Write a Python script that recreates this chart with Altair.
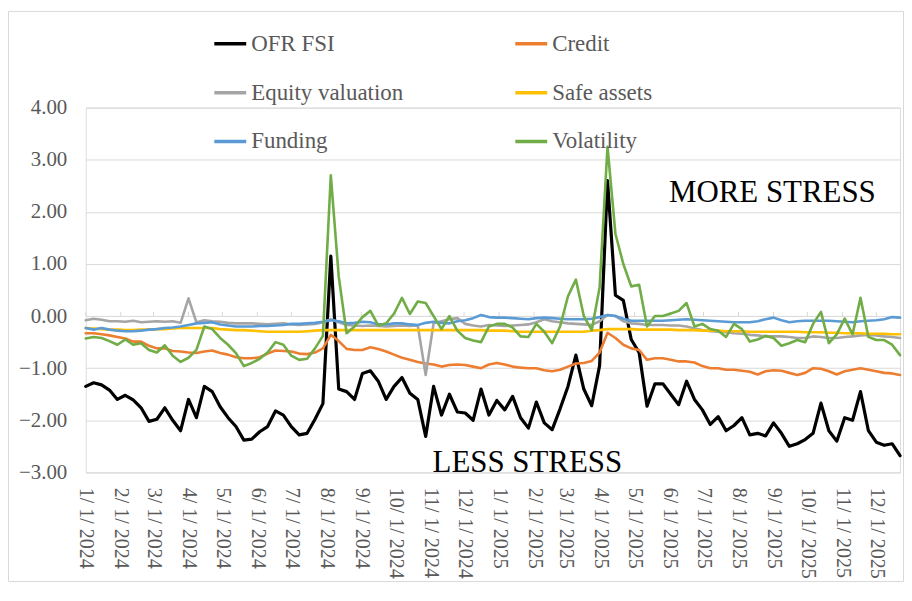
import altair as alt
import pandas as pd

# Weekly observation dates (Mondays) 1/1/2024 .. 12/22/2025
dates = [d.strftime("%Y-%m-%d") for d in pd.date_range("2024-01-01", periods=104, freq="7D")]

ofr_fsi = [
    -1.35, -1.28, -1.32, -1.42, -1.60, -1.52, -1.61, -1.76, -2.02, -1.98,
    -1.76, -2.00, -2.20, -1.60, -1.95, -1.35, -1.45, -1.74, -1.95, -2.12,
    -2.38, -2.36, -2.22, -2.12, -1.82, -1.90, -2.12, -2.28, -2.25, -1.98,
    -1.68, 1.15, -1.40, -1.45, -1.60, -1.10, -1.05, -1.25, -1.60, -1.35,
    -1.18, -1.48, -1.60, -2.31, -1.35, -1.90, -1.50, -1.84, -1.86, -2.00,
    -1.40, -1.90, -1.62, -1.80, -1.54, -1.95, -2.15, -1.65, -2.05, -2.18,
    -1.78, -1.35, -0.75, -1.40, -1.72, -0.95, 2.60, 0.40, 0.30, -0.45,
    -0.70, -1.73, -1.30, -1.30, -1.50, -1.70, -1.25, -1.60, -1.80, -2.08,
    -1.93, -2.20, -2.10, -1.95, -2.28, -2.25, -2.30, -2.05, -2.25, -2.50,
    -2.45, -2.37, -2.25, -1.67, -2.20, -2.40, -1.95, -2.00, -1.45, -2.20,
    -2.42, -2.48, -2.45, -2.68,
]
credit = [
    -0.33, -0.33, -0.35, -0.37, -0.40, -0.43, -0.49, -0.49, -0.57, -0.62,
    -0.62, -0.67, -0.68, -0.70, -0.71, -0.68, -0.66, -0.71, -0.74, -0.79,
    -0.81, -0.81, -0.79, -0.72, -0.66, -0.67, -0.68, -0.72, -0.73, -0.70,
    -0.62, -0.36, -0.48, -0.63, -0.65, -0.65, -0.60, -0.63, -0.68, -0.74,
    -0.80, -0.84, -0.88, -0.91, -0.93, -0.97, -0.94, -0.93, -0.94, -0.97,
    -1.00, -0.93, -0.90, -0.93, -0.97, -0.99, -1.00, -1.00, -1.04, -1.06,
    -1.03, -0.97, -0.91, -0.90, -0.86, -0.70, -0.32, -0.42, -0.55, -0.62,
    -0.65, -0.84, -0.81, -0.81, -0.84, -0.87, -0.87, -0.89, -0.96, -1.00,
    -1.00, -1.03, -1.03, -1.05, -1.07, -1.12, -1.06, -1.04, -1.05, -1.09,
    -1.13, -1.09, -1.00, -1.01, -1.06, -1.12, -1.06, -1.03, -1.00, -1.03,
    -1.06, -1.09, -1.10, -1.13,
]
equity_valuation = [
    -0.08, -0.05, -0.07, -0.10, -0.10, -0.11, -0.09, -0.12, -0.11, -0.10,
    -0.11, -0.10, -0.13, 0.34, -0.12, -0.08, -0.10, -0.11, -0.13, -0.14,
    -0.14, -0.14, -0.15, -0.16, -0.15, -0.14, -0.16, -0.17, -0.16, -0.15,
    -0.12, -0.06, -0.12, -0.17, -0.18, -0.19, -0.18, -0.19, -0.20, -0.19,
    -0.18, -0.19, -0.18, -1.13, -0.14, -0.10, -0.06, -0.04, -0.15, -0.18,
    -0.20, -0.17, -0.18, -0.19, -0.18, -0.17, -0.16, -0.12, -0.06, -0.10,
    -0.12, -0.14, -0.15, -0.16, -0.17, -0.10, 0.02, 0.00, -0.10, -0.14,
    -0.15, -0.17, -0.17, -0.17, -0.18, -0.18, -0.20, -0.24, -0.27, -0.29,
    -0.30, -0.31, -0.33, -0.34, -0.36, -0.37, -0.39, -0.39, -0.39, -0.40,
    -0.42, -0.42, -0.39, -0.40, -0.42, -0.42, -0.40, -0.39, -0.37, -0.36,
    -0.37, -0.39, -0.40, -0.42,
]
safe_assets = [
    -0.23, -0.24, -0.25, -0.26, -0.26, -0.27, -0.27, -0.26, -0.26, -0.25,
    -0.25, -0.24, -0.23, -0.23, -0.23, -0.23, -0.23, -0.25, -0.26, -0.27,
    -0.27, -0.28, -0.29, -0.30, -0.30, -0.30, -0.30, -0.30, -0.29, -0.28,
    -0.27, -0.27, -0.27, -0.27, -0.27, -0.27, -0.27, -0.27, -0.27, -0.27,
    -0.27, -0.27, -0.27, -0.27, -0.27, -0.27, -0.27, -0.27, -0.27, -0.27,
    -0.27, -0.28, -0.28, -0.28, -0.29, -0.30, -0.30, -0.30, -0.30, -0.30,
    -0.30, -0.30, -0.30, -0.30, -0.28, -0.27, -0.25, -0.25, -0.25, -0.25,
    -0.26, -0.26, -0.26, -0.26, -0.26, -0.27, -0.27, -0.27, -0.28, -0.28,
    -0.28, -0.29, -0.29, -0.29, -0.30, -0.30, -0.30, -0.30, -0.30, -0.30,
    -0.30, -0.31, -0.31, -0.31, -0.32, -0.32, -0.33, -0.33, -0.33, -0.34,
    -0.34, -0.34, -0.35, -0.35,
]
funding = [
    -0.23, -0.26, -0.23, -0.26, -0.28, -0.29, -0.29, -0.28, -0.26, -0.25,
    -0.23, -0.22, -0.20, -0.17, -0.14, -0.13, -0.12, -0.16, -0.18, -0.20,
    -0.20, -0.20, -0.19, -0.19, -0.18, -0.17, -0.15, -0.15, -0.14, -0.13,
    -0.11, -0.08, -0.10, -0.14, -0.13, -0.11, -0.12, -0.16, -0.16, -0.14,
    -0.14, -0.16, -0.17, -0.13, -0.11, -0.13, -0.14, -0.10, -0.08, -0.04,
    0.02, -0.02, -0.03, -0.03, -0.04, -0.05, -0.06, -0.04, -0.03, -0.04,
    -0.05, -0.06, -0.06, -0.06, -0.05, -0.02, 0.02, 0.00, -0.05, -0.09,
    -0.09, -0.09, -0.09, -0.09, -0.08, -0.07, -0.06, -0.07, -0.08, -0.09,
    -0.10, -0.11, -0.12, -0.12, -0.12, -0.10, -0.06, -0.03, -0.08, -0.12,
    -0.10, -0.09, -0.09, -0.09, -0.09, -0.10, -0.11, -0.12, -0.10, -0.09,
    -0.08, -0.06, -0.02, -0.03,
]
volatility = [
    -0.43, -0.40, -0.42, -0.48, -0.55, -0.45, -0.55, -0.52, -0.65, -0.70,
    -0.56, -0.76, -0.88, -0.80, -0.65, -0.20, -0.25, -0.42, -0.55, -0.71,
    -0.96, -0.90, -0.82, -0.70, -0.50, -0.55, -0.76, -0.84, -0.82, -0.62,
    -0.38, 2.70, 0.76, -0.33, -0.20, -0.02, 0.10, -0.18, -0.14, 0.05,
    0.35, 0.04, 0.28, 0.25, 0.00, -0.25, 0.00, -0.28, -0.42, -0.47,
    -0.50, -0.20, -0.15, -0.15, -0.22, -0.39, -0.40, -0.15, -0.30, -0.52,
    -0.20, 0.38, 0.70, 0.00, -0.27, 0.55, 3.25, 1.58, 1.00, 0.57,
    0.60, -0.20, 0.00, 0.00, 0.05, 0.10, 0.25, -0.20, -0.15, -0.25,
    -0.28, -0.40, -0.15, -0.25, -0.49, -0.45, -0.38, -0.42, -0.57, -0.52,
    -0.46, -0.50, -0.15, 0.08, -0.52, -0.35, -0.05, -0.35, 0.35, -0.40,
    -0.46, -0.46, -0.55, -0.75,
]

# drawing order (later on top)
series_names = ["OFR FSI", "Credit", "Equity valuation", "Safe assets", "Funding", "Volatility"]
series_values = [ofr_fsi, credit, equity_valuation, safe_assets, funding, volatility]
series_colors = ["#000000", "#ED7D31", "#A5A5A5", "#FFC000", "#5B9BD5", "#70AD47"]
series_widths = [3.2, 2.6, 2.6, 2.6, 2.6, 2.6]
# legend fills column by column: first column, then second
legend_order = ["OFR FSI", "Equity valuation", "Funding", "Credit", "Safe assets", "Volatility"]

y_ticks = [-3, -2, -1, 0, 1, 2, 3, 4]
month_ticks = [(2024, m) for m in range(1, 13)] + [(2025, m) for m in range(1, 13)]

note_text = ["MORE STRESS", "LESS STRESS"]
note_date = ["2025-08-31", "2025-01-26"]
note_value = [2.19, -2.99]

FONT = "Liberation Serif"
W, H = 817, 366

rows = []
for name, vals in zip(series_names, series_values):
    for d, v in zip(dates, vals):
        rows.append({"date": d, "value": v, "series": name})
df = pd.DataFrame(rows)

tick_df = pd.DataFrame({"date": [f"{y}-{m:02d}-01" for y, m in month_ticks]})
note_df = pd.DataFrame({"text": note_text, "date": note_date, "value": note_value})

x_scale = alt.Scale(type="utc", domain=[alt.DateTime(year=2024, month=1, date=1, utc=True),
                                        alt.DateTime(year=2025, month=12, date=22, utc=True)])
y_scale = alt.Scale(domain=[-3, 4], nice=False, zero=False)

x_axis = alt.Axis(
    values=[alt.DateTime(year=y, month=m, date=1, utc=True) for y, m in month_ticks],
    labelExpr="utcFormat(datum.value, '%-m/ %-d/ %Y')",
    labelAngle=90, labelFont=FONT, labelFontSize=20, labelColor="#595959",
    labelPadding=15, labelOverlap=False, domain=False, ticks=False, tickSize=0,
    grid=False, title=None,
)
y_axis = alt.Axis(
    values=y_ticks, format=".2f", labelFont=FONT, labelFontSize=21, labelColor="#595959",
    labelPadding=19, domain=False, ticks=False, tickSize=0, grid=True,
    gridColor="#D9D9D9", gridWidth=1, title=None,
)

color_scale = alt.Scale(
    domain=legend_order,
    range=[series_colors[series_names.index(n)] for n in legend_order],
)
legend = alt.Legend(
    orient="none", legendX=127, legendY=-82, columns=2, title=None,
    symbolType="stroke", symbolSize=1024, symbolStrokeWidth=3.5,
    labelFont=FONT, labelFontSize=23, labelColor="#595959", labelOffset=3,
    columnPadding=105, rowPadding=19, padding=0, labelLimit=400,
)

layers = []
# light frame around the whole chart
border = alt.Chart(pd.DataFrame({"a": [0]})).mark_rect(
    fill="transparent", stroke="#D9D9D9", strokeWidth=1
).encode(
    x=alt.value(-77.5), x2=alt.value(W + 3.5), y=alt.value(-96.5), y2=alt.value(H + 109.5)
)
layers.append(border)

zero_ticks = alt.Chart(tick_df).mark_rule(color="#D9D9D9", strokeWidth=1).encode(
    x=alt.X("date:T", scale=x_scale, axis=x_axis),
    y=alt.datum(0),
    y2=alt.datum(0.08),
)
layers.append(zero_ticks)

for i, name in enumerate(series_names):
    layer = alt.Chart(df).transform_filter(alt.datum.series == name).mark_line(
        strokeWidth=series_widths[i], strokeJoin="round", strokeCap="round"
    ).encode(
        x=alt.X("date:T", scale=x_scale, axis=x_axis),
        y=alt.Y("value:Q", scale=y_scale, axis=y_axis),
        color=alt.Color("series:N", scale=color_scale, legend=legend, sort=legend_order),
    )
    layers.append(layer)

notes = alt.Chart(note_df).mark_text(
    font=FONT, fontSize=31, color="#000000", align="center", baseline="alphabetic"
).encode(
    x=alt.X("date:T", scale=x_scale, axis=x_axis),
    y=alt.Y("value:Q", scale=y_scale, axis=y_axis),
    text="text:N",
)
layers.append(notes)

chart = alt.layer(*layers).properties(
    width=W, height=H,
    autosize=alt.AutoSizeParams(type="none"),
    padding={"left": 78, "top": 99, "right": 4, "bottom": 110},
).configure_view(stroke="transparent").configure(font=FONT)

chart.save("out.html", embed_options={"renderer": "svg", "actions": False})
